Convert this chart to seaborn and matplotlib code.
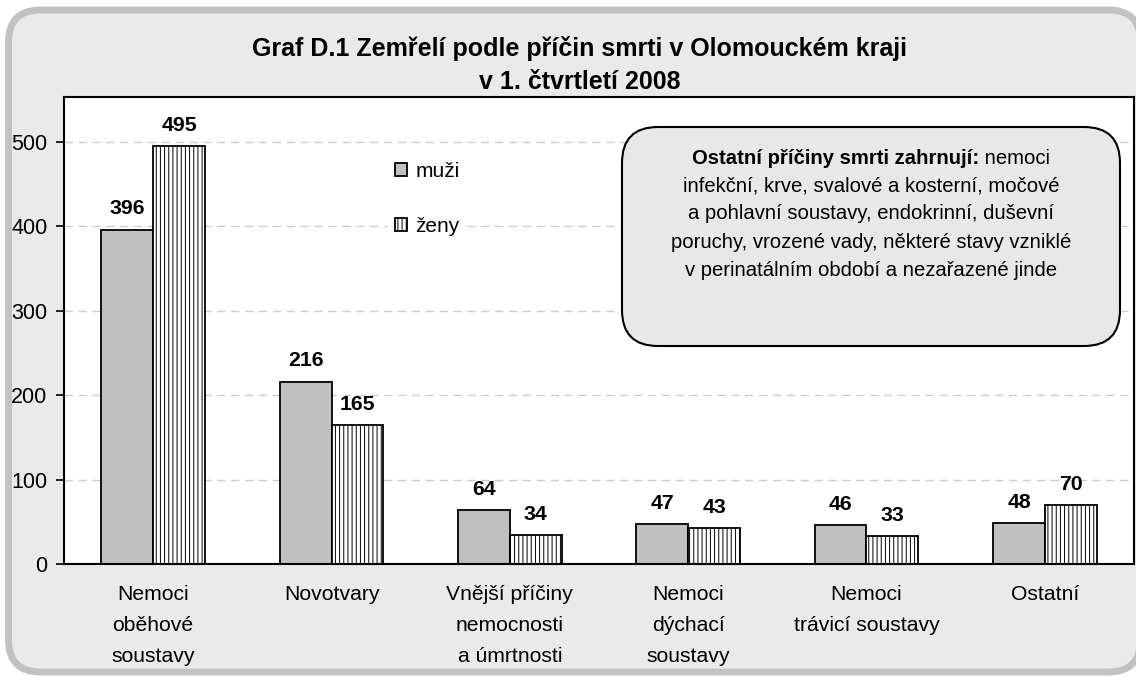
import matplotlib.pyplot as plt
import matplotlib.patches as mpatches
import matplotlib.transforms as mtransforms
import numpy as np
import pandas as pd
import seaborn as sns

PRICINY = [
    "Nemoci\noběhové\nsoustavy",
    "Novotvary",
    "Vnější příčiny\nnemocnosti\na úmrtnosti",
    "Nemoci\ndýchací\nsoustavy",
    "Nemoci\ntrávicí soustavy",
    "Ostatní",
]
POHLAVI = ["muži", "ženy"]
MUZI = [396, 216, 64, 47, 46, 48]
ZENY = [495, 165, 34, 43, 33, 70]
Y_TICKS = [0, 100, 200, 300, 400, 500]

TITLE = "Graf D.1 Zemřelí podle příčin smrti v Olomouckém kraji\nv 1. čtvrtletí 2008"
NOTE_BOLD = "Ostatní příčiny smrti zahrnují:"
NOTE_FIRST = " nemoci"
NOTE_REST = (
    "infekční, krve, svalové a kosterní, močové\n"
    "a pohlavní soustavy, endokrinní, duševní\n"
    "poruchy, vrozené vady, některé stavy vzniklé\n"
    "v perinatálním období a nezařazené jinde"
)

sns.set_theme(style="white")
plt.rcParams["font.family"] = ["Liberation Sans", "DejaVu Sans"]
plt.rcParams["hatch.linewidth"] = 0.7
plt.rcParams["text.color"] = "black"
plt.rcParams["xtick.color"] = "black"
plt.rcParams["ytick.color"] = "black"

W, H = 1136, 677
fig = plt.figure(figsize=(W / 100, H / 100), dpi=100)
fig.patch.set_facecolor("white")
px = mtransforms.IdentityTransform()

# outer rounded frame (partly cut off on the right like the original)
frame = mpatches.FancyBboxPatch(
    (8.5, 5), 1132, 662,
    boxstyle="round,pad=0,rounding_size=32",
    facecolor="#eaeaea", edgecolor="#c2c2c2", linewidth=5,
    transform=px, zorder=-5,
)
fig.add_artist(frame)

ax = fig.add_axes([64 / W, 1 - 564 / H, (1134 - 64) / W, (564 - 97) / H])

df = pd.DataFrame({
    "pricina": PRICINY * 2,
    "pohlavi": [POHLAVI[0]] * len(PRICINY) + [POHLAVI[1]] * len(PRICINY),
    "pocet": MUZI + ZENY,
})

sns.barplot(
    data=df, x="pricina", y="pocet", hue="pohlavi", order=PRICINY,
    hue_order=POHLAVI, palette=["#c0c0c0", "white"], saturation=1,
    width=0.58, gap=0, edgecolor="black", linewidth=1.3,
    errorbar=None, legend=False, ax=ax,
)
for bar in ax.containers[1]:
    bar.set_hatch("||||")

for cont in ax.containers:
    ax.bar_label(cont, padding=8, fontsize=15.3, fontweight="bold")

ax.set_facecolor("white")
ax.set_xlim(-0.5, len(PRICINY) - 0.5)
ax.set_ylim(0, 553)
ax.set_yticks(Y_TICKS)
ax.set_yticklabels([str(v) for v in Y_TICKS], fontsize=15.5)
ax.set_xticks(np.arange(-0.5, len(PRICINY), 1))
ax.set_xticklabels([])
ax.set_xticks(np.arange(len(PRICINY)), minor=True)
ax.set_xticklabels(PRICINY, minor=True, fontsize=15.2, linespacing=1.8)
ax.tick_params(axis="x", which="major", direction="out", length=5, width=1.2)
ax.tick_params(axis="x", which="minor", length=0, pad=15)
ax.tick_params(axis="y", direction="out", length=6, width=1.2, pad=6, left=True)
ax.set_xlabel("")
ax.set_ylabel("")
ax.yaxis.grid(True, linestyle=(0, (6, 4)), color="#cccccc", linewidth=1)
ax.set_axisbelow(True)
for sp in ax.spines.values():
    sp.set_visible(True)
    sp.set_color("black")
    sp.set_linewidth(1.5)

leg = ax.legend(
    handles=ax.containers, labels=POHLAVI,
    loc="upper left", bbox_to_anchor=(378 / W, 1 - 145 / H),
    bbox_transform=fig.transFigure, fontsize=15, frameon=True,
    facecolor="white", edgecolor="none", framealpha=1,
    handlelength=0.6, handleheight=0.6, handletextpad=0.4,
    labelspacing=1.75, borderpad=0.3,
)

fig.text(580 / W, 1 - 65 / H, TITLE, ha="center", va="center",
         fontsize=18, fontweight="bold", linespacing=1.5)

# note box
box = mpatches.FancyBboxPatch(
    (622, H - 346), 498, 219,
    boxstyle="round,pad=0,rounding_size=36",
    facecolor="#e8e8e8", edgecolor="black", linewidth=1.5,
    transform=px, zorder=2,
)
fig.add_artist(box)

fig.canvas.draw()
renderer = fig.canvas.get_renderer()
cx = 871
t_bold = fig.text(0, 1 - 158 / H, NOTE_BOLD, fontsize=14.6, fontweight="bold",
                  va="center", ha="left", zorder=3)
t_norm = fig.text(0, 1 - 158 / H, NOTE_FIRST, fontsize=14.6,
                  va="center", ha="left", zorder=3)
wb = t_bold.get_window_extent(renderer).width
wn = t_norm.get_window_extent(renderer).width
x0 = cx - (wb + wn) / 2
t_bold.set_x(x0 / W)
t_norm.set_x((x0 + wb) / W)
fig.text(cx / W, 1 - 176 / H, NOTE_REST, fontsize=14.6, ha="center", va="top",
         linespacing=1.63, zorder=3)

fig.savefig("out.png", dpi=100)
